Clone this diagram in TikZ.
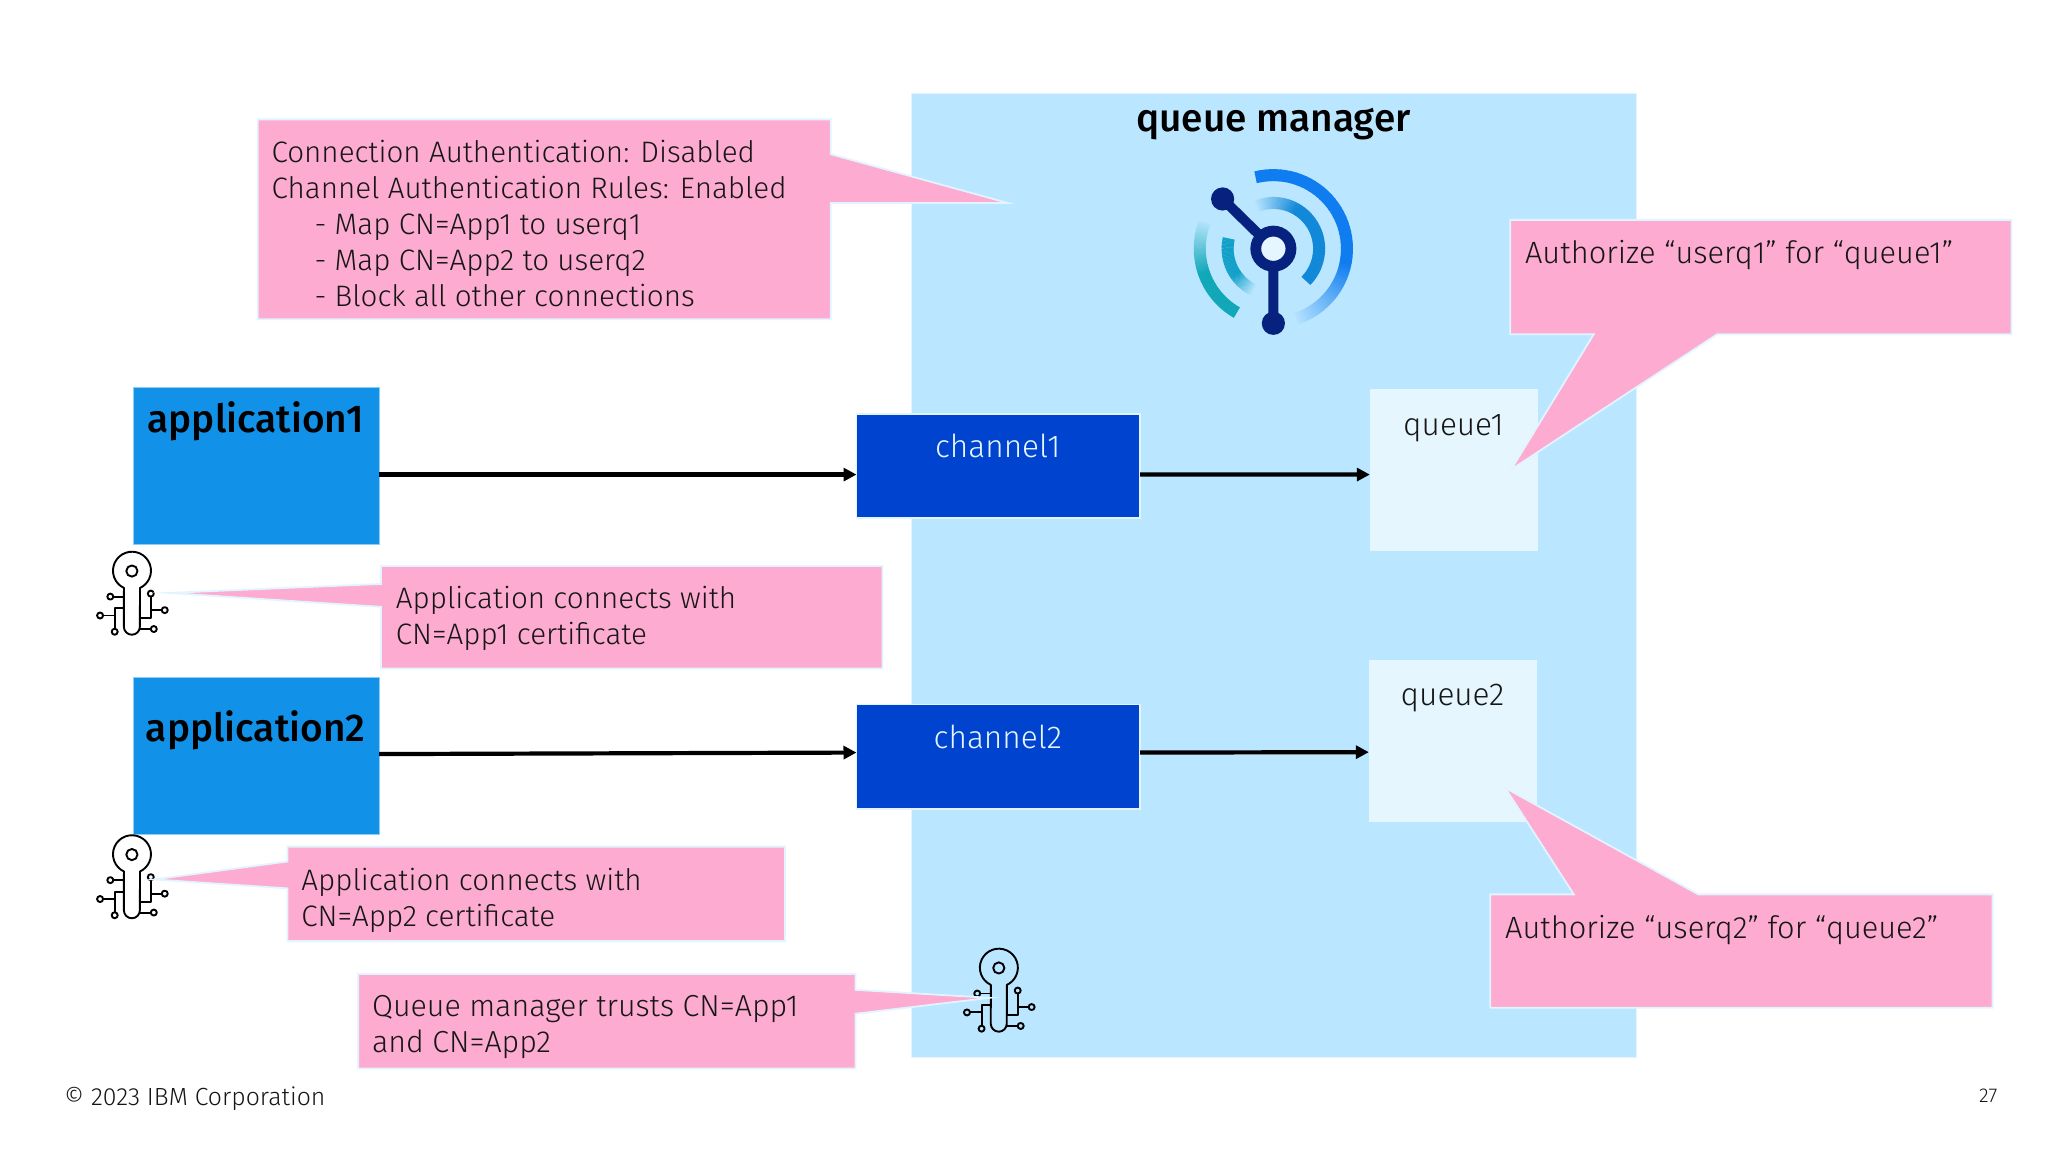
\documentclass[tikz,border=0pt]{standalone}
\usepackage{fontspec}
\setmainfont{Fira Sans Light}[BoldFont={Fira Sans Medium}]
\usetikzlibrary{arrows.meta}
\definecolor{qmbg}{HTML}{BAE6FF}
\definecolor{qbg}{HTML}{E5F6FF}
\definecolor{appbg}{HTML}{1192E8}
\definecolor{chanbg}{HTML}{0043CE}
\definecolor{pinkbg}{HTML}{FDABD0}
\definecolor{edge}{HTML}{E2F4FF}
\definecolor{navy}{HTML}{07217F}
\definecolor{logoa}{HTML}{0F7CF0}
\definecolor{logob}{HTML}{1288D8}
\definecolor{logoc}{HTML}{12A0C8}
\definecolor{logod}{HTML}{10A8B8}
\definecolor{txt}{HTML}{161616}
\tikzset{
  x=0.4974pt,y=-0.4974pt,
  boxbase/.style={rectangle,inner sep=0pt,outer sep=0pt},
  appbox/.style={boxbase,fill=appbg,draw=edge!60!appbg,line width=.5pt,minimum width=122.9pt,minimum height=78.1pt},
  chanbox/.style={boxbase,fill=chanbg,draw=edge,line width=.8pt,minimum width=141.8pt,minimum height=52.2pt},
  qbox/.style={boxbase,fill=qbg,minimum width=84.1pt,minimum height=81.1pt},
  conn/.style={line width=2.1pt,black,-{Triangle[length=6.5pt,width=6.5pt]}},
  callout/.style={fill=pinkbg,draw=edge,line width=.9pt,line join=miter,miter limit=25},
  ctext/.style={inner sep=0pt,outer sep=0pt,anchor=north west,align=left,text=txt,font=\fontsize{14.8}{18}\selectfont},
  atext/.style={ctext,font=\fontsize{15.4}{18}\selectfont},
  qtext/.style={ctext,font=\fontsize{15.2}{18}\selectfont},
  btext/.style={inner sep=0pt,font=\bfseries\fontsize{19.4}{22}\selectfont,text=black},
  ltext/.style={inner sep=0pt,font=\fontsize{15.8}{18}\selectfont},
  keyline/.style={line width=.95pt,black,line cap=round,line join=round},
  pics/keyicon/.style={code={
    \draw[keyline] (-8,17) arc[start angle=245,end angle=-65,radius=9.5pt] -- (8,56) arc[start angle=0,end angle=-180,radius=4pt] -- cycle;
    \draw[keyline] (0,0) circle[radius=2.8pt];
    \draw[keyline] (-8,25.7) -- (-18.7,25.7);
    \draw[keyline] (-21.7,25.7) circle[radius=1.5pt];
    \draw[keyline] (-29,44.7) -- (-17.3,44.7);
    \draw[keyline] (-32,44.7) circle[radius=1.5pt];
    \draw[keyline] (-8,37.3) -- (-17.3,37.3) -- (-17.3,58);
    \draw[keyline] (-17.3,61) circle[radius=1.5pt];
    \draw[keyline] (19,25.7) -- (19,47.3) -- (8,47.3);
    \draw[keyline] (19,22.7) circle[radius=1.5pt];
    \draw[keyline] (19,39.3) -- (30,39.3);
    \draw[keyline] (33,39.3) circle[radius=1.5pt];
    \draw[keyline] (8,58.3) -- (19,58.3);
    \draw[keyline] (22,58.3) circle[radius=1.5pt];
  }}
}
% fading arc: radius, from angle, to angle, colour, mix at start, mix at end
\newcommand{\fadearc}[6]{%
  \foreach \t in {0,...,29}{%
    \pgfmathsetmacro{\aone}{#2+(#3-#2)*\t/30}%
    \pgfmathsetmacro{\atwo}{#2+(#3-#2)*(\t+1.2)/30}%
    \pgfmathsetmacro{\mixv}{#5+(#6-#5)*\t/29}%
    \draw[line width=6pt,color=#4!\mixv!qmbg]
      ({1280+#1*cos(\aone)},{250-#1*sin(\aone)}) arc[start angle=\aone,end angle=\atwo,radius=#1*0.4974pt];
  }%
}
\begin{document}
\begin{tikzpicture}
\useasboundingbox[fill=white] (0,0) rectangle (1024pt,-576pt);

% queue manager
\node[boxbase,fill=qmbg,draw=edge,line width=.6pt,minimum width=362.6pt,minimum height=482pt] (qm) at (1280.5,578.5) {};
\node[btext] (qmlabel) at (1280,125) {queue manager};

% logo
\fadearc{74}{104}{-10}{logoa}{100}{100}
\fadearc{74}{-10}{-71}{logoa}{100}{6}
\fadearc{46}{111}{60}{logob}{5}{100}
\fadearc{46}{60}{-44}{logob}{100}{100}
\fadearc{46}{167}{215}{logoc}{100}{100}
\fadearc{46}{215}{244}{logoc}{100}{5}
\fadearc{74}{159}{200}{logod}{5}{100}
\fadearc{74}{200}{240}{logod}{100}{100}
\draw[navy,line width=5pt] (1229,200) -- (1280,250) -- (1280,325);
\fill[navy] (1229,200) circle[radius=5.8pt];
\fill[navy] (1280,325) circle[radius=5.8pt];
\draw[navy,line width=5.4pt,fill=qbg] (1280,250) circle[radius=8.8pt];

% queues
\node[qbox] (q1) at (1461.5,472.5) {};
\node[qbox] (q2) at (1460.5,744.5) {};
\node[ltext,text=txt] (q1t) at (1461,430) {queue1};
\node[ltext,text=txt] (q2t) at (1460,702) {queue2};

% channels
\node[chanbox] (c1) at (1003.5,468.5) {};
\node[chanbox] (c2) at (1003.5,760.5) {};
\node[ltext,text=qbg] (c1t) at (1003,448.5) {channel1};
\node[ltext,text=qbg] (c2t) at (1003,740.5) {channel2};

% applications
\node[appbox] (a1) at (257.5,468.5) {};
\node[appbox] (a2) at (257.5,760) {};
\node[btext] (a1t) at (257,423.5) {application1};
\node[btext] (a2t) at (257,734.5) {application2};

% connectors
\draw[conn] ([yshift=-4.25pt]a1.east) -- ([yshift=-4.25pt]c1.west);
\draw[conn] ([yshift=-4.25pt]c1.east) -- ([yshift=-2.25pt]q1.west);
\draw[conn] ([yshift=1pt]a2.east) -- ([yshift=2pt]c2.west);
\draw[conn] ([yshift=2pt]c2.east) -- ([yshift=-5.75pt]q2.west);

% keys
\pic at (132.6,574) {keyicon};
\pic at (132.6,859) {keyicon};
\pic at (1004,973) {keyicon};

% callouts
\draw[callout] (259,120) -- (835,120) -- (835,155) -- (1013,204) -- (835,204) -- (835,321) -- (259,321) -- cycle;
\node[ctext] (t1) at (273,141) {Connection Authentication: Disabled\\Channel Authentication Rules: Enabled\\\hspace*{21.5pt}- Map CN=App1 to userq1\\\hspace*{21.5pt}- Map CN=App2 to userq2\\\hspace*{21.5pt}- Block all other connections};

\draw[callout] (383,569) -- (887,569) -- (887,672) -- (383,672) -- (383,610) -- (170,596) -- (383,587) -- cycle;
\node[ctext] (t2) at (398,589.5) {Application connects with\\CN=App1 certificate};

\draw[callout] (289,851) -- (789,851) -- (789,946) -- (289,946) -- (289,893) -- (155,884) -- (289,866) -- cycle;
\node[ctext] (t3) at (303,873) {Application connects with\\CN=App2 certificate};

\draw[callout] (360,979) -- (860,979) -- (860,995) -- (995,1003) -- (860,1019) -- (860,1074) -- (360,1074) -- cycle;
\node[qtext] (t4) at (374,1001) {Queue manager trusts CN=App1\\and CN=App2};

\draw[callout] (1518,221) -- (2022,221) -- (2022,336) -- (1726,336) -- (1519,472) -- (1602,336) -- (1518,336) -- cycle;
\node[atext] (t5) at (1533,242) {Authorize “userq1” for “queue1”};

\draw[callout] (1498,899) -- (1582,899) -- (1513,792) -- (1707,899) -- (2003,899) -- (2003,1013) -- (1498,1013) -- cycle;
\node[atext] (t6) at (1513,920) {Authorize “userq2” for “queue2”};

% footer
\node[inner sep=0pt,anchor=base west,font=\fontsize{12.4}{14}\selectfont,text=txt] (foot) at (64,1111) {© 2023 IBM Corporation};
\node[inner sep=0pt,anchor=base west,font=\fontsize{10}{10}\selectfont,text=txt] (page) at (1989,1108) {27};
\end{tikzpicture}
\end{document}
